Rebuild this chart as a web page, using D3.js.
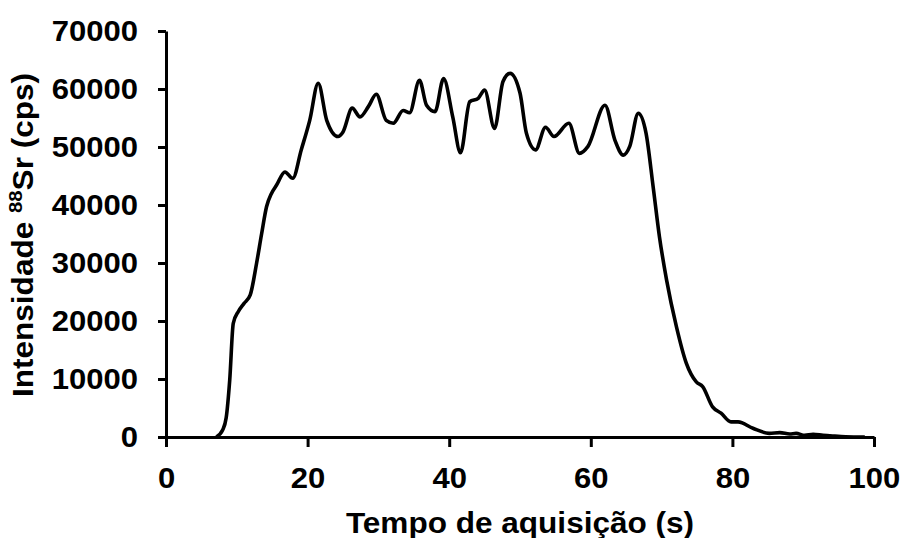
<!DOCTYPE html>
<html>
<head>
<meta charset="utf-8">
<script src="https://cdn.jsdelivr.net/npm/d3@7"></script>
<style>
  html, body { margin: 0; padding: 0; background: #fff; }
  svg { display: block; }
  text { font-family: "Liberation Sans", Arial, sans-serif; font-weight: bold; fill: #000; }
</style>
</head>
<body>
<svg id="chart" width="905" height="538"></svg>
<script>
const time = [7.1, 8.0, 8.5, 9.0, 9.5, 10.2, 11.0, 11.9, 12.8, 13.5, 14.2, 14.9, 15.6, 16.8, 17.9, 19.1, 20.3, 21.5, 22.7, 24.3, 25.0, 26.3, 27.4, 28.6, 29.7, 31.1, 32.1, 33.5, 34.4, 35.8, 36.8, 38.0, 39.2, 40.5, 41.6, 42.9, 44.1, 45.0, 46.4, 47.6, 48.6, 50.0, 50.9, 52.2, 53.6, 54.8, 56.9, 58.4, 59.6, 62.0, 63.4, 64.6, 65.5, 66.7, 67.8, 68.8, 69.7, 70.7, 72.1, 73.5, 74.9, 75.8, 77.2, 78.4, 79.8, 80.8, 82.9, 85.2, 86.7, 88.1, 89.0, 90.2, 91.4, 92.8, 94.2, 96.0, 98.7];
const intensity = [0, 1200, 3300, 9800, 19600, 21600, 23000, 24500, 30000, 35000, 39700, 42000, 43400, 45700, 44600, 49500, 54600, 61000, 54600, 51800, 52600, 56700, 55200, 57000, 59100, 54600, 54100, 56300, 55900, 61500, 57200, 56100, 61800, 55200, 49000, 57800, 58400, 59800, 53200, 61300, 62700, 59300, 52400, 49500, 53400, 51800, 54100, 48900, 50100, 57200, 51200, 48600, 50100, 55800, 52400, 43200, 34500, 27100, 19000, 12700, 9500, 8700, 5200, 4100, 2600, 2600, 1500, 630, 750, 520, 630, 290, 460, 290, 170, 50, 0];
const xTicks = [0, 20, 40, 60, 80, 100];
const yTicks = [0, 10000, 20000, 30000, 40000, 50000, 60000, 70000];
const xTitle = "Tempo de aquisição (s)";
const yTitleParts = ["Intensidade ", "88", "Sr (cps)"];

const svg = d3.select("#chart");
const m = { left: 166, right: 874, top: 31, bottom: 437 };
const x = d3.scaleLinear().domain([0, 100]).range([m.left, m.right]);
const y = d3.scaleLinear().domain([0, 70000]).range([m.bottom, m.top]);
const SX = 1.07; // horizontal text stretch seen in the reference

const data = time.map((t, i) => ({ t, v: intensity[i] }));

// line
svg.append("path")
  .datum(data)
  .attr("fill", "none")
  .attr("stroke", "#000")
  .attr("stroke-width", 3.6)
  .attr("stroke-linejoin", "round")
  .attr("d", d3.line().x(d => x(d.t)).y(d => y(d.v)).curve(d3.curveMonotoneX));

// axes
const xAxis = svg.append("g")
  .attr("transform", `translate(0,${m.bottom})`)
  .call(d3.axisBottom(x).tickValues(xTicks).tickSize(10).tickPadding(20).tickSizeOuter(0));
const yAxis = svg.append("g")
  .attr("transform", `translate(${m.left},0)`)
  .call(d3.axisLeft(y).tickValues(yTicks).tickSize(8).tickPadding(20).tickSizeOuter(0).tickFormat(d3.format("d")));

[xAxis, yAxis].forEach(g => {
  g.select(".domain").attr("stroke", "#000").attr("stroke-width", 3);
  g.selectAll(".tick line").attr("stroke", "#000").attr("stroke-width", 3);
  g.selectAll(".tick text").style("font-size", "29px").style("font-weight", "bold")
    .style("font-family", '"Liberation Sans", Arial, sans-serif').attr("fill", "#000")
    .attr("transform", function () {
      const tx = +this.getAttribute("x") || 0;
      return `translate(${tx},0) scale(${SX},1) translate(${-tx},0)`;
    });
});

// titles
svg.append("text")
  .attr("transform", `translate(${(m.left + m.right) / 2},533) scale(${SX},1)`)
  .attr("text-anchor", "middle")
  .style("font-size", "29.5px")
  .text(xTitle);

const yt = svg.append("text")
  .attr("transform", `translate(33,${(m.top + m.bottom) / 2 + 1}) rotate(-90) scale(${SX},1)`)
  .attr("text-anchor", "middle")
  .style("font-size", "29.5px");
yt.append("tspan").text(yTitleParts[0]);
yt.append("tspan").text(yTitleParts[1]).style("font-size", "19px").attr("dy", "-11");
yt.append("tspan").text(yTitleParts[2]).attr("dy", "11");
</script>
</body>
</html>
